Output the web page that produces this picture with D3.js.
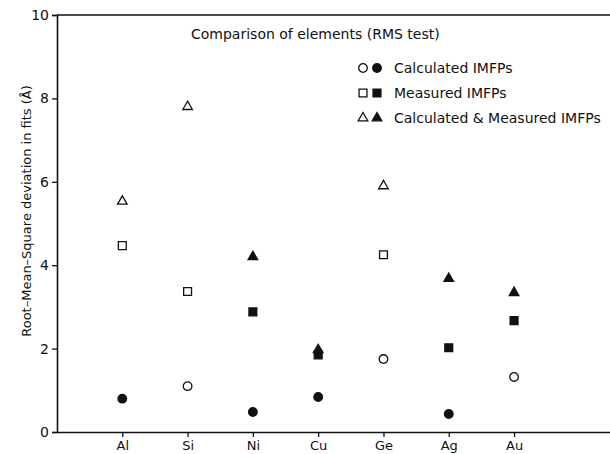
<!DOCTYPE html>
<html>
<head>
  <meta http-equiv="Content-Type" content="text/html;charset=utf-8" />
  <style type="text/css">
    body { margin: 0; background: #fff; overflow: hidden; }
    svg { display: block; }
    text { font-family: "DejaVu Sans", "Liberation Sans", sans-serif; fill: #111; }
  </style>
</head>
<body>
  <div id="svgContainer"></div>
  <script src="https://d3js.org/d3.v7.min.js"></script>
  <script type="text/javascript">
    var w = 610;
    var h = 454;

    // data
    var elements = ["Al", "Si", "Ni", "Cu", "Ge", "Ag", "Au"];
    var calculated = [0.80, 1.10, 0.48, 0.84, 1.75, 0.43, 1.32];
    var measured = [4.47, 3.37, 2.88, 1.85, 4.25, 2.02, 2.67];
    var both = [5.53, 7.80, 4.20, 1.97, 5.90, 3.68, 3.34];
    // filled marker = 1, open marker = 0
    var calculatedFilled = [1, 0, 1, 1, 0, 1, 0];
    var measuredFilled = [0, 0, 1, 1, 0, 1, 1];
    var bothFilled = [0, 0, 1, 1, 0, 1, 1];
    var yTicks = [0, 2, 4, 6, 8, 10];
    var legendLabels = ["Calculated IMFPs", "Measured IMFPs", "Calculated & Measured IMFPs"];

    var svg = d3.select("#svgContainer")
      .append("svg")
      .attr("width", w)
      .attr("height", h);

    var x = d3.scaleLinear().domain([0, 8.5]).range([57, 612]);
    var y = d3.scaleLinear().domain([0, 10]).range([432, 15]);

    // axes
    var yAxis = d3.axisLeft(y).tickValues(yTicks).tickSize(5).tickPadding(3);
    var gy = svg.append("g").attr("transform", "translate(57,0)").call(yAxis);
    gy.select(".domain").attr("stroke", "#111").attr("stroke-width", 1.6);
    gy.selectAll(".tick line").attr("stroke", "#111").attr("stroke-width", 1.3);
    gy.selectAll(".tick text").style("font-size", "14px").attr("fill", "#111");

    var xAxis = d3.axisBottom(x).tickValues(d3.range(1, elements.length + 1))
      .tickFormat(function (d) { return elements[d - 1]; })
      .tickSize(5).tickPadding(4).tickSizeOuter(0);
    var gx = svg.append("g").attr("transform", "translate(0,432)").call(xAxis);
    gx.select(".domain").attr("stroke", "#111").attr("stroke-width", 1.6);
    gx.selectAll(".tick line").attr("stroke", "#111").attr("stroke-width", 1.3);
    gx.selectAll(".tick text").style("font-size", "13px").attr("fill", "#111");

    // top frame line
    svg.append("line")
      .attr("x1", x(0)).attr("x2", x(8.5))
      .attr("y1", y(10)).attr("y2", y(10))
      .attr("stroke", "#111").attr("stroke-width", 1.6);

    // y label
    svg.append("text")
      .attr("transform", "translate(31," + y(5.3) + ") rotate(-90)")
      .attr("text-anchor", "middle")
      .style("font-size", "13px")
      .text("Root\u2013Mean\u2013Square deviation in fits (\u00C5)");

    // title
    svg.append("text")
      .attr("x", 191).attr("y", 39)
      .style("font-size", "14px")
      .text("Comparison of elements (RMS test)");

    var circle = d3.symbol().type(d3.symbolCircle).size(58);
    var square = d3.symbol().type(d3.symbolSquare).size(62);
    var triangle = d3.symbol().type(d3.symbolTriangle).size(40);

    function drawSeries(values, filled, sym) {
      svg.append("g").selectAll("path")
        .data(values)
        .join("path")
        .attr("transform", function (d, i) { return "translate(" + x(i + 1) + "," + y(d) + ")"; })
        .attr("d", sym)
        .attr("fill", function (d, i) { return filled[i] ? "#111" : "#fff"; })
        .attr("stroke", "#111")
        .attr("stroke-width", 1.3);
    }

    drawSeries(calculated, calculatedFilled, circle);
    drawSeries(measured, measuredFilled, square);
    drawSeries(both, bothFilled, triangle);

    // legend
    var legendSyms = [circle, square, triangle];
    var legend = svg.append("g");
    legendLabels.forEach(function (label, i) {
      var ly = 68 + i * 25;
      legend.append("path")
        .attr("transform", "translate(363," + ly + ")")
        .attr("d", legendSyms[i])
        .attr("fill", "#fff").attr("stroke", "#111").attr("stroke-width", 1.3);
      legend.append("path")
        .attr("transform", "translate(377," + ly + ")")
        .attr("d", legendSyms[i])
        .attr("fill", "#111").attr("stroke", "#111").attr("stroke-width", 1.3);
      legend.append("text")
        .attr("x", 394).attr("y", ly + 5)
        .style("font-size", "14px")
        .text(label);
    });
  </script>
</body>
</html>
